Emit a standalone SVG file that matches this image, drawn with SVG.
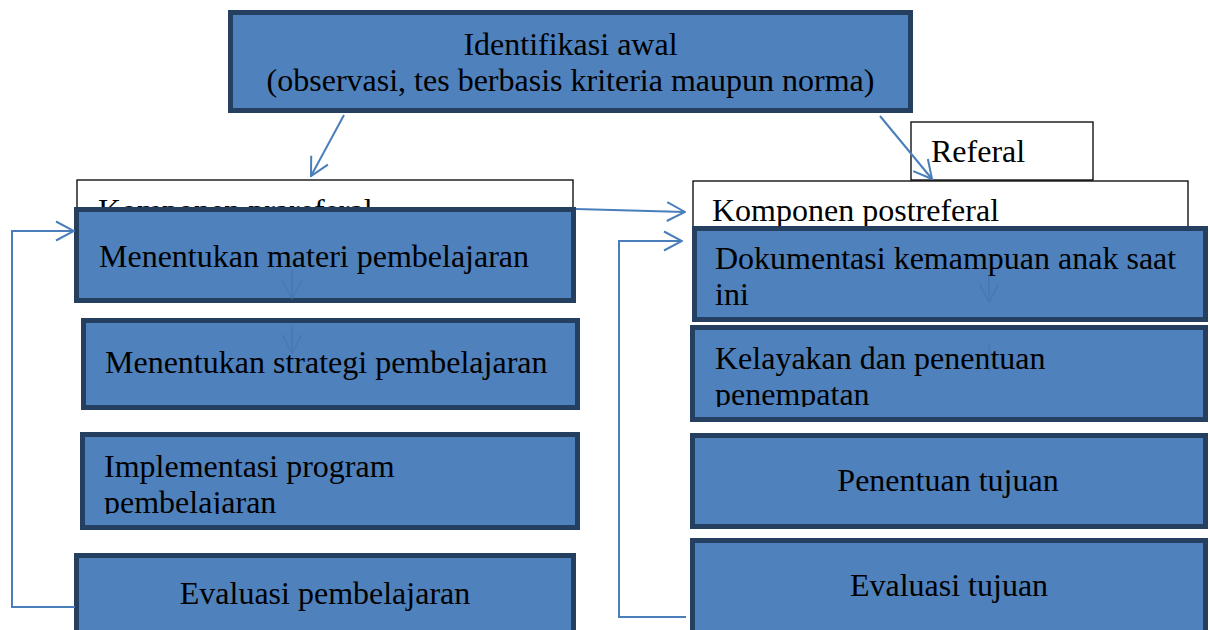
<svg xmlns="http://www.w3.org/2000/svg" width="1210" height="630" viewBox="0 0 1210 630">
<style>
.blue{fill:#4f81bd;stroke:#243f60;stroke-width:5}
.white{fill:#ffffff;stroke:#000000;stroke-width:1.3}
.t{font-family:"Liberation Serif","Times New Roman",serif;font-size:32px;fill:#000000}
.c{text-anchor:middle}
.con{fill:none;stroke:#4a7ebb;stroke-width:2}
.faint{fill:none;stroke:#3f73b2;stroke-width:1.5;opacity:0.55}
</style>
<defs>
<marker id="ah" viewBox="0 0 20 22" refX="19" refY="11" markerWidth="20" markerHeight="22" markerUnits="userSpaceOnUse" orient="auto">
<path d="M1,1.5 L19,11 L1,20.5" fill="none" stroke="#4a7ebb" stroke-width="2"/>
</marker>
<marker id="fh" viewBox="0 0 20 22" refX="19" refY="11" markerWidth="20" markerHeight="22" markerUnits="userSpaceOnUse" orient="auto">
<path d="M1,1.5 L19,11 L1,20.5" fill="none" stroke="#3f73b2" stroke-width="1.5"/>
</marker>
<clipPath id="clipImpl"><rect x="80" y="430" width="500" height="84"/></clipPath>
<clipPath id="clipKel"><rect x="690" y="325" width="520" height="82"/></clipPath>
</defs>

<g id="identifikasi">
<rect class="blue" x="230.5" y="12.5" width="680" height="98"/>
<text class="t c" x="570.5" y="55">Identifikasi awal</text>
<text class="t c" x="570.5" y="91">(observasi, tes berbasis kriteria maupun norma)</text>
</g>

<g id="referal">
<rect class="white" x="911" y="122" width="182" height="58"/>
<text class="t" x="931" y="162">Referal</text>
</g>

<g id="prareferal">
<rect class="white" x="77" y="180" width="496" height="40"/>
<text class="t" x="98" y="221">Komponen prareferal</text>
</g>

<g id="postreferal">
<rect class="white" x="693" y="181" width="495" height="50"/>
<text class="t" x="712" y="221">Komponen postreferal</text>
</g>

<g id="materi">
<rect class="blue" x="76.5" y="209.5" width="497" height="91"/>
<text class="t" x="99" y="267">Menentukan materi pembelajaran</text>
</g>

<g id="strategi">
<rect class="blue" x="83.5" y="320.5" width="494" height="87"/>
<text class="t" x="105" y="373">Menentukan strategi pembelajaran</text>
</g>

<g id="implementasi">
<rect class="blue" x="82.5" y="434.5" width="495" height="93"/>
<g clip-path="url(#clipImpl)">
<text class="t" x="104" y="477">Implementasi program</text>
<text class="t" x="104" y="513">pembelajaran</text>
</g>
</g>

<g id="evaluasi-pembelajaran">
<rect class="blue" x="76.5" y="555.5" width="497" height="80"/>
<text class="t c" x="325" y="604">Evaluasi pembelajaran</text>
</g>

<g id="dokumentasi">
<rect class="blue" x="694.5" y="228.5" width="511" height="91"/>
<text class="t" x="715" y="269">Dokumentasi kemampuan anak saat</text>
<text class="t" x="715" y="305">ini</text>
</g>

<g id="kelayakan">
<rect class="blue" x="692.5" y="327.5" width="513" height="92"/>
<g clip-path="url(#clipKel)">
<text class="t" x="715" y="369">Kelayakan dan penentuan</text>
<text class="t" x="715" y="405">penempatan</text>
</g>
</g>

<g id="penentuan-tujuan">
<rect class="blue" x="692.5" y="435.5" width="513" height="91"/>
<text class="t c" x="948" y="491">Penentuan tujuan</text>
</g>

<g id="evaluasi-tujuan">
<rect class="blue" x="692.5" y="540.5" width="513" height="95"/>
<text class="t c" x="949" y="596">Evaluasi tujuan</text>
</g>

<g id="connectors">
<line class="con" x1="344" y1="115" x2="311" y2="176" marker-end="url(#ah)"/>
<line class="con" x1="880" y1="116" x2="932" y2="179" marker-end="url(#ah)"/>
<line class="con" x1="576" y1="209" x2="685" y2="212" marker-end="url(#ah)"/>
<polyline class="con" points="75,607 12,607 12,231 74,231" marker-end="url(#ah)"/>
<polyline class="con" points="686,617 619,617 619,241 682,241" marker-end="url(#ah)"/>
<line class="faint" x1="292" y1="270" x2="292" y2="299" marker-end="url(#fh)"/>
<line class="faint" x1="292" y1="325" x2="292" y2="353" marker-end="url(#fh)"/>
<line class="faint" x1="989" y1="275" x2="989" y2="302" marker-end="url(#fh)"/>
<line class="faint" x1="989" y1="343" x2="989" y2="372"/>
</g>
</svg>
